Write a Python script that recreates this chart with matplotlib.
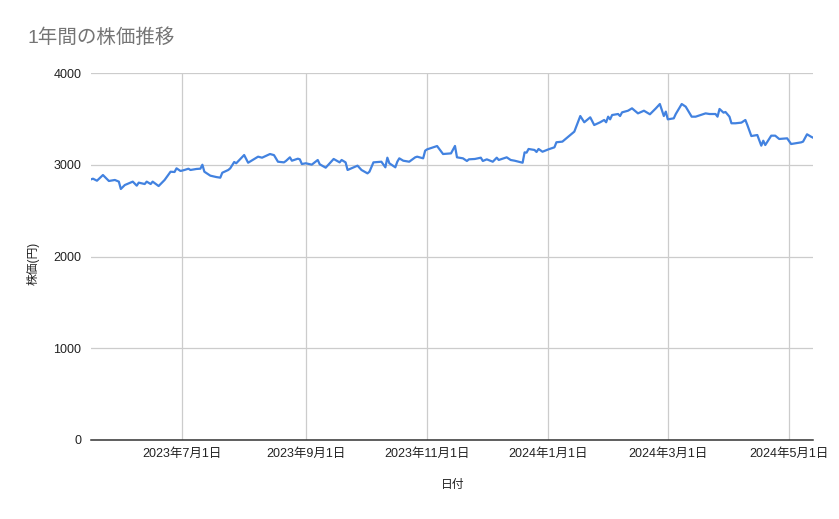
import matplotlib
matplotlib.use("Agg")
import matplotlib.pyplot as plt
import pandas as pd

plt.rcParams['font.family'] = ['Liberation Sans', 'Noto Sans CJK JP', 'DejaVu Sans']

dates = [
    "2023-05-16", "2023-05-17", "2023-05-19", "2023-05-22", "2023-05-25", "2023-05-28",
    "2023-05-30", "2023-05-31", "2023-06-02", "2023-06-06", "2023-06-08", "2023-06-09",
    "2023-06-12", "2023-06-13", "2023-06-15", "2023-06-16", "2023-06-19", "2023-06-22",
    "2023-06-25", "2023-06-27", "2023-06-28", "2023-06-30", "2023-07-02", "2023-07-04",
    "2023-07-05", "2023-07-08", "2023-07-10", "2023-07-11", "2023-07-12", "2023-07-15",
    "2023-07-18", "2023-07-20", "2023-07-21", "2023-07-24", "2023-07-25", "2023-07-27",
    "2023-07-28", "2023-08-01", "2023-08-03", "2023-08-08", "2023-08-10", "2023-08-14",
    "2023-08-16", "2023-08-18", "2023-08-21", "2023-08-22", "2023-08-24", "2023-08-25",
    "2023-08-28", "2023-08-29", "2023-08-30", "2023-09-01", "2023-09-04", "2023-09-07",
    "2023-09-08", "2023-09-11", "2023-09-15", "2023-09-18", "2023-09-19", "2023-09-21",
    "2023-09-22", "2023-09-27", "2023-09-29", "2023-10-02", "2023-10-03", "2023-10-05",
    "2023-10-09", "2023-10-11", "2023-10-12", "2023-10-13", "2023-10-16", "2023-10-17",
    "2023-10-18", "2023-10-20", "2023-10-23", "2023-10-26", "2023-10-27", "2023-10-30",
    "2023-10-31", "2023-11-01", "2023-11-06", "2023-11-09", "2023-11-13", "2023-11-15",
    "2023-11-16", "2023-11-19", "2023-11-21", "2023-11-22", "2023-11-25", "2023-11-28",
    "2023-11-29", "2023-12-01", "2023-12-04", "2023-12-06", "2023-12-07", "2023-12-11",
    "2023-12-13", "2023-12-15", "2023-12-19", "2023-12-20", "2023-12-21", "2023-12-22",
    "2023-12-25", "2023-12-26", "2023-12-27", "2023-12-29", "2024-01-01", "2024-01-04",
    "2024-01-05", "2024-01-08", "2024-01-11", "2024-01-12", "2024-01-14", "2024-01-17",
    "2024-01-19", "2024-01-22", "2024-01-24", "2024-01-27", "2024-01-29", "2024-01-30",
    "2024-01-31", "2024-02-01", "2024-02-02", "2024-02-05", "2024-02-06", "2024-02-07",
    "2024-02-10", "2024-02-12", "2024-02-15", "2024-02-18", "2024-02-21", "2024-02-24",
    "2024-02-26", "2024-02-28", "2024-02-29", "2024-03-01", "2024-03-04", "2024-03-05",
    "2024-03-08", "2024-03-10", "2024-03-13", "2024-03-15", "2024-03-20", "2024-03-22",
    "2024-03-25", "2024-03-26", "2024-03-27", "2024-03-29", "2024-03-30", "2024-04-01",
    "2024-04-02", "2024-04-04", "2024-04-07", "2024-04-09", "2024-04-10", "2024-04-12",
    "2024-04-15", "2024-04-17", "2024-04-18", "2024-04-19", "2024-04-22", "2024-04-24",
    "2024-04-26", "2024-04-30", "2024-05-02", "2024-05-07", "2024-05-08", "2024-05-10",
    "2024-05-12", "2024-05-13",
]

prices = [
    2841, 2848, 2826, 2888, 2823, 2834,
    2816, 2736, 2779, 2816, 2772, 2805,
    2790, 2816, 2790, 2816, 2768, 2834,
    2924, 2921, 2961, 2932, 2943, 2957,
    2943, 2954, 2957, 3000, 2924, 2881,
    2866, 2859, 2913, 2943, 2961, 3030,
    3016, 3106, 3022, 3088, 3077, 3117,
    3105, 3033, 3026, 3041, 3081, 3044,
    3066, 3059, 3008, 3016, 3001, 3052,
    3005, 2968, 3063, 3026, 3052, 3026,
    2943, 2990, 2943, 2906, 2924, 3026,
    3033, 2972, 3077, 3016, 2972, 3033,
    3070, 3044, 3033, 3081, 3088, 3070,
    3153, 3168, 3204, 3117, 3124, 3205,
    3081, 3070, 3041, 3059, 3063, 3077,
    3041, 3059, 3033, 3077, 3052, 3081,
    3052, 3044, 3022, 3135, 3132, 3172,
    3161, 3139, 3172, 3142, 3168, 3190,
    3245, 3252, 3306, 3324, 3361, 3531,
    3463, 3517, 3433, 3463, 3488, 3463,
    3524, 3495, 3542, 3553, 3531, 3571,
    3589, 3615, 3560, 3589, 3550, 3615,
    3662, 3531, 3579, 3495, 3506, 3553,
    3662, 3633, 3524, 3524, 3560, 3553,
    3553, 3524, 3608, 3568, 3575, 3524,
    3452, 3452, 3459, 3488, 3433, 3313,
    3324, 3208, 3262, 3215, 3317, 3317,
    3281, 3288, 3226, 3244, 3252, 3332,
    3306, 3295,
]

tick_dates = ["2023-07-01", "2023-09-01", "2023-11-01", "2024-01-01", "2024-03-01", "2024-05-01"]
tick_labels = ["2023年7月1日", "2023年9月1日", "2023年11月1日", "2024年1月1日", "2024年3月1日", "2024年5月1日"]
y_ticks = [0, 1000, 2000, 3000, 4000]

title = "1年間の株価推移"
x_label = "日付"
y_label = "株価(円)"

x = pd.to_datetime(dates)
xt = pd.to_datetime(tick_dates)

fig = plt.figure(figsize=(8.39, 5.19), dpi=100)
ax = fig.add_axes([91 / 839, 1 - 440 / 519, (813 - 91) / 839, (440 - 73) / 519])

ax.plot(x, prices, color="#4282e0", linewidth=1.6, solid_joinstyle="round", zorder=3)

ax.set_xlim(x[0], x[-1])
ax.set_ylim(0, 4000)
ax.set_yticks(y_ticks)
ax.set_yticklabels([str(v) for v in y_ticks])
ax.set_xticks(xt)
ax.set_xticklabels(tick_labels)

ax.grid(True, color="#cccccc", linewidth=0.9)
ax.set_axisbelow(True)
for s in ["top", "right", "left"]:
    ax.spines[s].set_visible(False)
ax.spines["bottom"].set_color("#333333")
ax.spines["bottom"].set_linewidth(1.1)
ax.spines["bottom"].set_zorder(4)

ax.tick_params(axis="both", length=0, labelsize=9, labelcolor="#222222")
ax.tick_params(axis="y", pad=7)
ax.tick_params(axis="x", pad=6)

fig.text(27 / 839, 1 - 38 / 519, title, fontsize=14, color="#757575", va="center", ha="left")
fig.text(33 / 839, 1 - 263 / 519, y_label, fontsize=8.5, color="#222222", rotation=90, va="center", ha="center")
fig.text(453 / 839, 1 - 485 / 519, x_label, fontsize=8.5, color="#222222", va="center", ha="center")

fig.savefig("out.png", dpi=100, facecolor="white")
